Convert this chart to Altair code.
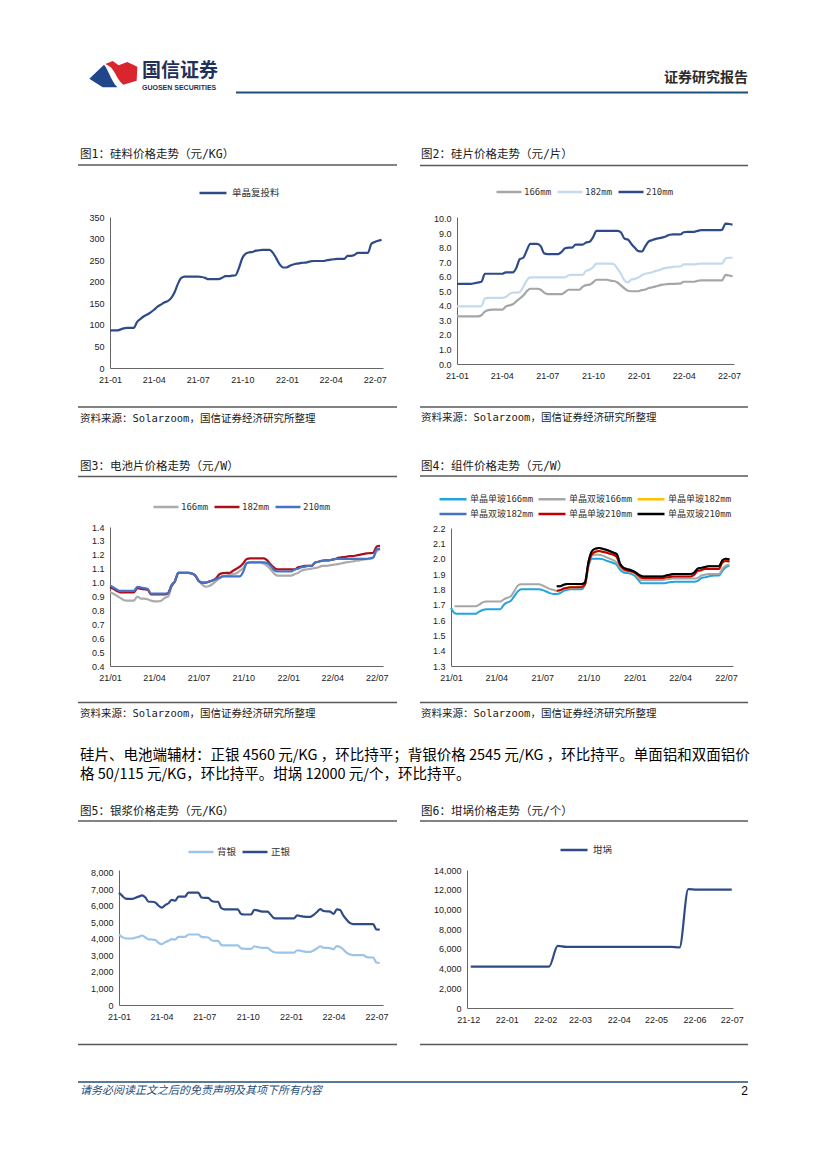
import altair as alt
import pandas as pd

MONO = "DejaVu Sans Mono, Noto Sans CJK SC"
CJK = "Noto Sans CJK SC"
TICK = "Liberation Sans, Arial, sans-serif"
NAVY = "#2F4B87"

# ---------------- categories (dates / ticks) ----------------
weeks = pd.date_range("2021-01-01", periods=81, freq="7D")          # weekly quotes
weeks_crucible = pd.date_range("2021-12-03", periods=31, freq="7D")
quarter_ticks = [(2021, 1, 1), (2021, 4, 1), (2021, 7, 1), (2021, 10, 1),
                 (2022, 1, 1), (2022, 4, 1), (2022, 7, 1)]
month_ticks = [(2021, 12, 1), (2022, 1, 1), (2022, 2, 1), (2022, 3, 1),
               (2022, 4, 1), (2022, 5, 1), (2022, 6, 1), (2022, 7, 1)]

# ---------------- 图1 硅料 ----------------
poly_names = ["单晶复投料"]
polysilicon = [87, 87, 87, 89, 92, 93, 93, 93, 107, 114,
               120, 124, 129, 135, 142, 147, 152, 155, 162, 175,
               195, 209, 212, 212, 212, 212, 212, 211, 209, 206,
               206, 206, 206, 209, 213, 213, 214, 215, 232, 255,
               265, 268, 269, 272, 273, 274, 274, 274, 267, 254,
               240, 233, 233, 237, 240, 242, 243, 244, 245, 247,
               248, 248, 248, 248, 250, 251, 252, 253, 253, 253,
               260, 260, 262, 267, 267, 267, 267, 288, 292, 295, 297]

# ---------------- 图2 硅片 ----------------
wafer_names = ["166mm", "182mm", "210mm"]
wafer_166 = [3.27, 3.27, 3.27, 3.27, 3.27, 3.27, 3.27, 3.35, 3.6, 3.7,
             3.73, 3.73, 3.73, 3.73, 3.95, 4.03, 4.1, 4.3, 4.5, 4.7,
             5.0, 5.17, 5.17, 5.17, 5.1, 4.9, 4.8, 4.8, 4.8, 4.8,
             4.8, 4.95, 5.1, 5.1, 5.1, 5.1, 5.3, 5.42, 5.45, 5.6,
             5.79, 5.79, 5.79, 5.79, 5.73, 5.7, 5.6, 5.4, 5.2, 5.03,
             5.0, 5.0, 5.0, 5.08, 5.12, 5.22, 5.27, 5.33, 5.4, 5.45,
             5.48, 5.5, 5.5, 5.52, 5.52, 5.65, 5.65, 5.65, 5.65, 5.72,
             5.75, 5.75, 5.75, 5.75, 5.75, 5.75, 5.75, 6.12, 6.08, 6.02]
wafer_182 = [3.96, 3.96, 3.96, 3.96, 3.96, 3.96, 3.96, 3.98, 4.5, 4.55,
             4.55, 4.55, 4.55, 4.55, 4.6, 4.8, 4.9, 4.9, 4.95, 5.3,
             5.75, 5.95, 5.95, 5.95, 5.95, 5.95, 5.95, 5.95, 5.95, 5.95,
             5.95, 5.95, 6.1, 6.13, 6.13, 6.13, 6.13, 6.4, 6.47, 6.65,
             6.89, 6.89, 6.89, 6.89, 6.89, 6.85, 6.55, 6.2, 5.75, 5.6,
             5.8, 5.85, 5.95, 6.1, 6.2, 6.25, 6.3, 6.4, 6.45, 6.55,
             6.6, 6.64, 6.67, 6.7, 6.7, 6.84, 6.84, 6.84, 6.84, 6.88,
             6.9, 6.9, 6.9, 6.9, 6.9, 6.9, 6.9, 7.25, 7.3, 7.3]
wafer_210 = [5.5, 5.5, 5.5, 5.5, 5.5, 5.55, 5.6, 5.65, 6.2, 6.2,
             6.2, 6.2, 6.2, 6.2, 6.3, 6.3, 6.3, 6.6, 7.2, 7.3,
             7.8, 8.25, 8.25, 8.25, 8.1, 7.6, 7.55, 7.55, 7.55, 7.55,
             7.7, 7.95, 8.0, 8.0, 8.2, 8.2, 8.2, 8.35, 8.4, 8.7,
             9.15, 9.15, 9.15, 9.15, 9.15, 9.15, 9.15, 9.05, 8.62, 8.55,
             8.25, 7.98, 7.75, 7.73, 8.1, 8.42, 8.52, 8.6, 8.65, 8.7,
             8.78, 8.88, 8.9, 8.9, 8.9, 9.05, 9.08, 9.08, 9.08, 9.15,
             9.2, 9.2, 9.2, 9.2, 9.2, 9.2, 9.22, 9.65, 9.62, 9.58]

# ---------------- 图3 电池片 ----------------
cell_names = ["166mm", "182mm", "210mm"]
cell_166 = [0.93, 0.92, 0.905, 0.89, 0.875, 0.87, 0.87, 0.87, 0.9, 0.885,
            0.885, 0.88, 0.87, 0.865, 0.865, 0.87, 0.89, 0.9, 0.97, 1.01,
            1.07, 1.07, 1.07, 1.07, 1.065, 1.05, 1.01, 0.985, 0.97, 0.975,
            0.99, 1.01, 1.03, 1.045, 1.05, 1.056, 1.062, 1.068, 1.085, 1.105,
            1.14, 1.145, 1.145, 1.145, 1.145, 1.135, 1.12, 1.095, 1.065, 1.05,
            1.05, 1.05, 1.05, 1.05, 1.06, 1.07, 1.085, 1.093, 1.097, 1.1,
            1.105, 1.11, 1.12, 1.12, 1.123, 1.128, 1.13, 1.135, 1.14, 1.145,
            1.148, 1.152, 1.157, 1.16, 1.165, 1.168, 1.17, 1.18, 1.225, 1.237]
cell_182 = [0.965, 0.955, 0.94, 0.93, 0.93, 0.93, 0.93, 0.93, 0.96, 0.955,
            0.952, 0.948, 0.915, 0.915, 0.915, 0.915, 0.915, 0.925, 0.98, 1.01,
            1.07, 1.07, 1.07, 1.07, 1.065, 1.05, 1.01, 1.0, 1.0, 1.008,
            1.015, 1.03, 1.06, 1.068, 1.07, 1.07, 1.085, 1.1, 1.115, 1.14,
            1.17, 1.175, 1.175, 1.175, 1.175, 1.175, 1.16, 1.13, 1.107, 1.095,
            1.095, 1.095, 1.095, 1.095, 1.095, 1.11, 1.115, 1.12, 1.12, 1.12,
            1.145, 1.15, 1.157, 1.16, 1.16, 1.165, 1.17, 1.18, 1.183, 1.185,
            1.19, 1.19, 1.195, 1.2, 1.205, 1.21, 1.212, 1.215, 1.26, 1.265]
cell_210 = [0.98, 0.965, 0.95, 0.94, 0.94, 0.94, 0.94, 0.94, 0.97, 0.965,
            0.96, 0.955, 0.92, 0.92, 0.92, 0.92, 0.92, 0.925, 0.98, 1.01,
            1.07, 1.07, 1.07, 1.07, 1.065, 1.05, 1.01, 1.0, 1.0, 1.008,
            1.015, 1.025, 1.035, 1.045, 1.045, 1.045, 1.045, 1.045, 1.045, 1.08,
            1.14, 1.145, 1.145, 1.145, 1.145, 1.145, 1.14, 1.12, 1.09, 1.08,
            1.08, 1.08, 1.08, 1.08, 1.095, 1.1, 1.11, 1.115, 1.12, 1.12,
            1.145, 1.15, 1.157, 1.16, 1.16, 1.165, 1.17, 1.17, 1.17, 1.17,
            1.17, 1.17, 1.17, 1.17, 1.17, 1.17, 1.175, 1.18, 1.24, 1.245]

# ---------------- 图4 组件 ----------------
module_names = ["单晶单玻166mm", "单晶双玻166mm", "单晶单玻182mm",
                "单晶双玻182mm", "单晶单玻210mm", "单晶双玻210mm"]
mod_s166 = [1.68, 1.645, 1.64, 1.64, 1.64, 1.64, 1.64, 1.64, 1.655, 1.665,
            1.67, 1.67, 1.67, 1.67, 1.67, 1.70, 1.715, 1.725, 1.757, 1.788,
            1.8, 1.8, 1.8, 1.8, 1.8, 1.8, 1.795, 1.786, 1.775, 1.77,
            1.77, 1.776, 1.79, 1.797, 1.8, 1.8, 1.8, 1.8, 1.83, 1.95,
            2.0, 2.0, 2.0, 1.997, 1.987, 1.98, 1.972, 1.96, 1.925, 1.91,
            1.906, 1.902, 1.89, 1.865, 1.84, 1.84, 1.84, 1.84, 1.84, 1.84,
            1.84, 1.842, 1.846, 1.848, 1.85, 1.85, 1.85, 1.85, 1.85, 1.85,
            1.855, 1.873, 1.878, 1.884, 1.888, 1.89, 1.89, 1.92, 1.945, 1.955]
mod_d166 = [1.69, 1.69, 1.69, 1.69, 1.69, 1.69, 1.69, 1.70, 1.715,          # from week 2
            1.72, 1.72, 1.72, 1.72, 1.72, 1.735, 1.745, 1.755, 1.79, 1.825,
            1.833, 1.833, 1.833, 1.833, 1.833, 1.833, 1.825, 1.814, 1.803, 1.797,
            1.79, 1.795, 1.803, 1.808, 1.812, 1.815, 1.818, 1.82, 1.85, 1.97,
            2.02, 2.025, 2.025, 2.02, 2.01, 2.0, 1.99, 1.975, 1.94, 1.922,
            1.917, 1.912, 1.9, 1.88, 1.86, 1.86, 1.86, 1.86, 1.86, 1.86,
            1.86, 1.865, 1.868, 1.87, 1.87, 1.87, 1.87, 1.87, 1.87, 1.87,
            1.875, 1.89, 1.895, 1.9, 1.9, 1.9, 1.9, 1.935, 1.955, 1.96]
mod_s182 = [1.79, 1.795, 1.805, 1.81, 1.814, 1.814, 1.814, 1.814, 1.83, 1.96,   # from week 31
            2.03, 2.045, 2.05, 2.045, 2.04, 2.033, 2.026, 2.012, 1.955, 1.932,
            1.922, 1.918, 1.91, 1.893, 1.876, 1.873, 1.873, 1.873, 1.873, 1.873,
            1.873, 1.878, 1.88, 1.884, 1.884, 1.884, 1.884, 1.884, 1.884, 1.895,
            1.92, 1.925, 1.932, 1.932, 1.932, 1.932, 1.932, 1.975, 1.985, 1.982]
mod_d182 = [1.82, 1.82, 1.83, 1.834, 1.834, 1.834, 1.834, 1.834, 1.845, 1.98,
            2.05, 2.065, 2.07, 2.065, 2.058, 2.05, 2.04, 2.03, 1.965, 1.94,
            1.932, 1.925, 1.915, 1.9, 1.888, 1.884, 1.884, 1.884, 1.884, 1.884,
            1.884, 1.89, 1.895, 1.9, 1.9, 1.9, 1.9, 1.9, 1.9, 1.91,
            1.935, 1.94, 1.945, 1.95, 1.95, 1.95, 1.95, 1.99, 2.0, 1.995]
mod_s210 = [1.79, 1.795, 1.805, 1.81, 1.814, 1.814, 1.814, 1.814, 1.83, 1.96,
            2.03, 2.045, 2.05, 2.045, 2.04, 2.033, 2.026, 2.012, 1.955, 1.932,
            1.922, 1.918, 1.91, 1.893, 1.876, 1.873, 1.873, 1.873, 1.873, 1.873,
            1.873, 1.878, 1.88, 1.884, 1.884, 1.884, 1.884, 1.884, 1.884, 1.895,
            1.92, 1.925, 1.932, 1.932, 1.932, 1.932, 1.932, 1.975, 1.985, 1.982]
mod_d210 = [1.82, 1.82, 1.83, 1.834, 1.834, 1.834, 1.834, 1.834, 1.845, 1.98,
            2.05, 2.065, 2.07, 2.065, 2.058, 2.05, 2.04, 2.03, 1.965, 1.94,
            1.932, 1.925, 1.915, 1.9, 1.888, 1.884, 1.884, 1.884, 1.884, 1.884,
            1.884, 1.89, 1.895, 1.9, 1.9, 1.9, 1.9, 1.9, 1.9, 1.91,
            1.935, 1.94, 1.945, 1.95, 1.95, 1.95, 1.95, 1.99, 2.0, 1.995]

# ---------------- 图5 银浆 ----------------
silver_names = ["背银", "正银"]
silver_back = [4260, 4100, 4020, 4020, 4020, 4080, 4120, 4200, 4080, 3970,
               3960, 3930, 3750, 3680, 3800, 3880, 3980, 3950, 4120, 4120,
               4120, 4260, 4260, 4260, 4260, 4120, 4100, 4080, 3920, 3880,
               3880, 3630, 3600, 3600, 3600, 3600, 3600, 3420, 3400, 3390,
               3390, 3550, 3500, 3460, 3450, 3450, 3300, 3190, 3170, 3170,
               3170, 3170, 3170, 3170, 3310, 3280, 3240, 3210, 3210, 3300,
               3420, 3550, 3460, 3450, 3440, 3370, 3560, 3500, 3350, 3150,
               3060, 3010, 3010, 3010, 3010, 2900, 2870, 2870, 2570, 2550]
silver_front = [6790, 6600, 6430, 6420, 6420, 6480, 6550, 6630, 6500, 6240,
                6240, 6200, 6000, 5880, 6040, 6150, 6360, 6300, 6550, 6550,
                6550, 6790, 6790, 6790, 6790, 6500, 6480, 6480, 6300, 6240,
                6240, 5850, 5780, 5780, 5780, 5780, 5780, 5500, 5470, 5470,
                5470, 5750, 5720, 5660, 5640, 5640, 5450, 5250, 5230, 5230,
                5230, 5230, 5230, 5230, 5420, 5370, 5340, 5330, 5330, 5450,
                5620, 5800, 5680, 5660, 5640, 5500, 5780, 5740, 5400, 5150,
                4950, 4890, 4890, 4890, 4890, 4890, 4890, 4890, 4570, 4560]

# ---------------- 图6 坩埚 ----------------
crucible_names = ["坩埚"]
crucible = [4200, 4200, 4200, 4200, 4200, 4200, 4200, 4200, 4200, 4200,
            6300, 6200, 6200, 6200, 6200, 6200, 6200, 6200, 6200, 6200,
            6200, 6200, 6200, 6200, 6150, 12050, 12000, 12000, 12000, 12000, 12000]

# ---------------- text ----------------
para_1 = "硅片、电池端辅材：正银 4560 元/KG ，环比持平；背银价格 2545 元/KG ，环比持平。单面铝和双面铝价"
para_2 = "格 50/115 元/KG，环比持平。坩埚 12000 元/个，环比持平。"
source = "资料来源：Solarzoom，国信证券经济研究所整理"

one = pd.DataFrame({"k": [0]})


def dt(t):
    return alt.DateTime(year=t[0], month=t[1], date=t[2])


def txt(text, x, y, size, color="#222222", align="left", font=MONO, weight="normal", style="normal"):
    return alt.Chart(one).mark_text(text=text, align=align, baseline="middle", fontSize=size,
                                    font=font, color=color, fontWeight=weight,
                                    fontStyle=style).encode(x=alt.value(x), y=alt.value(y))


def hrule(x1, x2, y, color="#595959", width=1.5):
    return alt.Chart(one).mark_rule(color=color, strokeWidth=width).encode(
        x=alt.value(x1), x2=alt.value(x2), y=alt.value(y))


def anchor(x1, x2, y1, y2):
    return alt.Chart(one).mark_rect(opacity=0).encode(
        x=alt.value(x1), x2=alt.value(x2), y=alt.value(y1), y2=alt.value(y2))


def frame(dates, names, series):
    rows = []
    for name, (start, vals) in zip(names, series):
        for d, v in zip(dates[start:], vals):
            rows.append({"date": d.strftime("%Y-%m-%dT00:00:00"), "series": name, "value": v})
    return pd.DataFrame(rows)


def panel(df, names, colors, xdom, xticks, xfmt, ydom, yticks, yfmt, W, H,
          lx, ly, cp, deco, columns=None, sw=2.2, rp=4, lfs=9.5,
          sym="stroke", ssize=729, loff=4):
    leg_kw = dict(title=None, orient="none", legendX=lx, legendY=ly, direction="horizontal",
                  symbolType=sym, symbolSize=ssize, symbolStrokeWidth=2.5,
                  labelFont=MONO, labelFontSize=lfs, labelColor="#333333",
                  columnPadding=cp, labelOffset=loff, padding=0, rowPadding=rp)
    if columns:
        leg_kw["columns"] = columns
    legend = alt.Legend(**leg_kw)
    xenc = alt.X("date:T", scale=alt.Scale(domain=[dt(xdom[0]), dt(xdom[1])]),
                 axis=alt.Axis(values=[dt(t) for t in xticks], format=xfmt, title=None,
                               labelFont=TICK, labelFontSize=9, labelColor="#222222",
                               ticks=False, grid=False, domainColor="#666666",
                               labelPadding=7, labelFlush=False, labelOverlap=False, labelAngle=0))
    yenc = alt.Y("value:Q", scale=alt.Scale(domain=ydom, nice=False, zero=False),
                 axis=alt.Axis(values=yticks, format=yfmt, title=None,
                               labelFont=TICK, labelFontSize=9, labelColor="#222222",
                               ticks=False, grid=False, domainColor="#666666",
                               labelPadding=6, labelFlush=False, labelOverlap=False))
    col = alt.Color("series:N", scale=alt.Scale(domain=names, range=colors), legend=legend)
    lines = [alt.Chart(df).transform_filter(alt.datum.series == n)
             .mark_line(strokeWidth=sw, interpolate="monotone")
             .encode(x=xenc, y=yenc, color=col) for n in names]
    return alt.layer(*deco, *lines).properties(width=W, height=H)


def decorations(title, ax1, ax2, ay1, ay2, tx, ty, rx1, rx2, ry, by, sy=None):
    d = [anchor(ax1, ax2, ay1, ay2), txt(title, tx, ty, 11.5, "#1a1a1a"),
         hrule(rx1, rx2, ry), hrule(rx1, rx2, by)]
    if sy is not None:
        d.append(txt(source, tx, sy, 10.5, "#1a1a1a"))
    return d


# ---------------- panels ----------------
c1 = panel(frame(weeks, poly_names, [(0, polysilicon)]), poly_names, [NAVY],
           ((2021, 1, 1), (2022, 7, 18)), quarter_ticks, "%y-%m",
           [0, 350], [0, 50, 100, 150, 200, 250, 300, 350], "d", 273, 151, 88, -39, 4,
           decorations("图1：硅料价格走势（元/KG）", -34, 289, -87, 223, -30, -62, -32, 287, -52, 190, 201.5))

c2 = panel(frame(weeks, wafer_names, [(0, wafer_166), (0, wafer_182), (0, wafer_210)]),
           wafer_names, ["#A6A6A6", "#C5D9EE", NAVY],
           ((2021, 1, 1), (2022, 7, 11)), quarter_ticks, "%y-%m",
           [0, 10.1], [0, 1, 2, 3, 4, 5, 6, 7, 8, 9, 10], ".1f", 277, 147, 38, -39, 0,
           decorations("图2：硅片价格走势（元/片）", -39, 293, -87, 223, -36, -62, -37, 291, -51.5, 190, 201),
           lfs=9, ssize=625, loff=1)

c3 = panel(frame(weeks, cell_names, [(0, cell_166), (0, cell_182), (0, cell_210)]),
           cell_names, ["#ABABAB", "#A8101C", "#4472C4"],
           ((2021, 1, 1), (2022, 7, 14)), quarter_ticks, "%y/%m",
           [0.4, 1.4], [0.4, 0.5, 0.6, 0.7, 0.8, 0.9, 1.0, 1.1, 1.2, 1.3, 1.4], ".1f", 273, 139, 42, -34, 0,
           decorations("图3：电池片价格走势（元/W）", -34, 289, -87, 208, -30, -60.5, -32, 287, -50.5, 175.5, 186.5),
           lfs=9, ssize=625, loff=1)

c4 = panel(frame(weeks, module_names, [(0, mod_s166), (1, mod_d166), (30, mod_s182),
                                       (30, mod_d182), (30, mod_s210), (30, mod_d210)]),
           module_names, ["#22A5DF", "#A6A6A6", "#FFC000", "#4472C4", "#C00000", "#000000"],
           ((2021, 1, 1), (2022, 7, 15)), quarter_ticks, "%y/%m",
           [1.3, 2.2], [1.3, 1.4, 1.5, 1.6, 1.7, 1.8, 1.9, 2.0, 2.1, 2.2], ".1f", 282, 138, -5.5, -36.5, 0,
           decorations("图4：组件价格走势（元/W）", -33, 299, -88, 207, -30, -61.5, -31, 297, -52, 174.5, 185.5),
           columns=3, sw=2.0, rp=2, lfs=9, sym="M-2.25,0L2.25,0", ssize=144, loff=9.5)

c5 = panel(frame(weeks, silver_names, [(0, silver_back), (0, silver_front)]),
           silver_names, ["#9DC3E6", NAVY],
           ((2021, 1, 1), (2022, 7, 15)), quarter_ticks, "%y-%m",
           [0, 8160], [0, 1000, 2000, 3000, 4000, 5000, 6000, 7000, 8000], ",.0f", 264, 135, 68, -32, 0,
           decorations("图5：银浆价格走势（元/KG）", -43, 280, -75, 190, -39, -58.5, -41, 278, -49, 174.5),
           ssize=625, loff=2)

c6 = panel(frame(weeks_crucible, crucible_names, [(0, crucible)]), crucible_names, [NAVY],
           ((2021, 11, 30), (2022, 7, 2)), month_ticks, "%y-%m",
           [0, 14000], [0, 2000, 4000, 6000, 8000, 10000, 12000, 14000], ",.0f", 266, 138, 92, -35, 3,
           decorations("图6：坩埚价格走势（元/个）", -49, 283, -75, 190, -46, -58.5, -47, 281, -49, 174.5))


def spacer():
    return anchor(0, 1, 0, 1).properties(width=49, height=1)


# ---------------- header / paragraph / footer ----------------
BLUE_LOGO = "M-0.947,0.147 L-0.36,-0.413 C-0.2,-0.25 -0.1,0.2 0.173,0.493 L-0.413,0.493 Z"
RED_LOGO = ("M-0.307,-0.44 L-0.013,-0.56 L0.227,-0.387 L0.573,-0.52 L0.973,-0.333 "
            "L0.947,0.227 L0.413,0.387 C0.08,0.133 0.1,-0.3 -0.307,-0.44 Z")

header = alt.layer(
    anchor(0, 1, 0, 122),
    alt.Chart(one).mark_point(shape=BLUE_LOGO, filled=True, color="#22468C", size=2500, opacity=1,
                              strokeWidth=0).encode(x=alt.value(105), y=alt.value(67)),
    alt.Chart(one).mark_point(shape=RED_LOGO, filled=True, color="#D9262E", size=2500, opacity=1,
                              strokeWidth=0).encode(x=alt.value(105), y=alt.value(67)),
    txt("国信证券", 134, 63, 19, "#23315A", font=CJK, weight="bold"),
    txt("GUOSEN SECURITIES", 134, 79.5, 7, "#23315A", font=TICK, weight="bold"),
    txt("证券研究报告", 740, 70, 14, "#2B2B2B", align="right", font=CJK, weight="bold"),
    hrule(228, 740, 84.5, "#1F4E79", 2),
).properties(width=1, height=1)

para = alt.layer(
    anchor(0, 1, 0, 60),
    txt(para_1, 72, 21, 14.5, "#000000", font=CJK),
    txt(para_2, 72, 40, 14.5, "#000000", font=CJK),
).properties(width=1, height=1)

footer = alt.layer(
    anchor(0, 1, 0, 45),
    hrule(70, 740, 22, "#1F4E79", 1.5),
    txt("请务必阅读正文之后的免责声明及其项下所有内容", 72, 31, 11, "#1F4E79", font=CJK, style="italic"),
    txt("2", 740, 31, 12, "#000000", align="right", font=TICK),
).properties(width=1, height=1)

gridA = alt.concat(spacer(), c1, c2, spacer(), c3, c4, columns=3, align="none", bounds="full",
                   spacing={"row": 0, "column": 19}).resolve_scale(color="independent").resolve_legend(color="independent")
gridB = alt.concat(spacer(), c5, c6, columns=3, align="none", bounds="full",
                   spacing={"row": 0, "column": 19}).resolve_scale(color="independent").resolve_legend(color="independent")

chart = alt.concat(header, gridA, para, gridB, footer, columns=1, align="none", bounds="full", spacing=0) \
    .resolve_scale(color="independent").resolve_legend(color="independent") \
    .properties(padding={"left": 0, "top": 0, "right": 0, "bottom": 0}) \
    .configure_view(strokeOpacity=0)

chart.save("out.html", embed_options={"renderer": "svg", "actions": False})
